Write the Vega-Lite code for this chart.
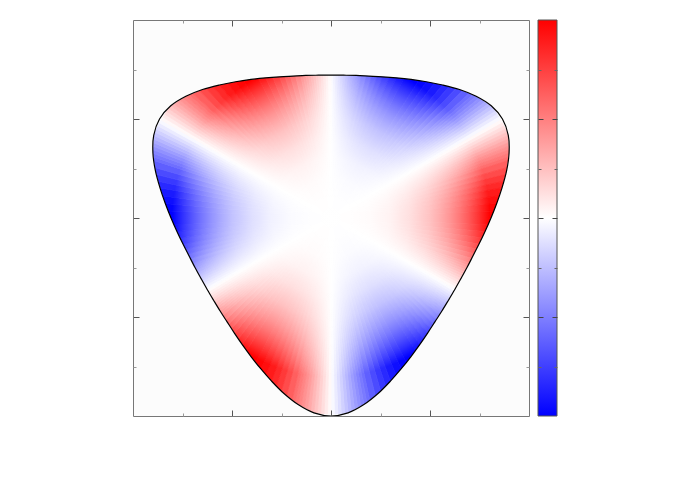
{
"$schema":"https://vega.github.io/schema/vega-lite/v6.json",
"background":"white",
"padding":{"left":132,"top":19,"right":5,"bottom":5},
"spacing":7,
"config":{"view":{"stroke":null},"axis":{"labels":false,"title":null,"grid":false,"domain":false,"zindex":1}},
"datasets":{
"wedges":[
{"a":0,"b":1,"v":-0.026},{"a":1,"b":2,"v":-0.079},{"a":2,"b":3,"v":-0.131},{"a":3,"b":4,"v":-0.182},{"a":4,"b":5,"v":-0.233},{"a":5,"b":6,"v":-0.284},{"a":6,"b":7,"v":-0.334},{"a":7,"b":8,"v":-0.383},{"a":8,"b":9,"v":-0.431},{"a":9,"b":10,"v":-0.477},{"a":10,"b":11,"v":-0.523},{"a":11,"b":12,"v":-0.566},{"a":12,"b":14,"v":-0.629},{"a":14,"b":16,"v":-0.707},{"a":16,"b":18,"v":-0.777},{"a":18,"b":20,"v":-0.839},{"a":20,"b":22.5,"v":-0.897},{"a":22.5,"b":25,"v":-0.947},{"a":25,"b":27.5,"v":-0.981},{"a":27.5,"b":32.5,"v":-1},{"a":32.5,"b":35,"v":-0.981},{"a":35,"b":37.5,"v":-0.947},{"a":37.5,"b":40,"v":-0.897},{"a":40,"b":42,"v":-0.839},{"a":42,"b":44,"v":-0.777},{"a":44,"b":46,"v":-0.707},{"a":46,"b":48,"v":-0.629},{"a":48,"b":49,"v":-0.566},{"a":49,"b":50,"v":-0.523},{"a":50,"b":51,"v":-0.477},{"a":51,"b":52,"v":-0.431},{"a":52,"b":53,"v":-0.383},{"a":53,"b":54,"v":-0.334},{"a":54,"b":55,"v":-0.284},{"a":55,"b":56,"v":-0.233},{"a":56,"b":57,"v":-0.182},{"a":57,"b":58,"v":-0.131},{"a":58,"b":59,"v":-0.079},{"a":59,"b":60,"v":-0.026},
{"a":60,"b":61,"v":0.026},{"a":61,"b":62,"v":0.079},{"a":62,"b":63,"v":0.131},{"a":63,"b":64,"v":0.182},{"a":64,"b":65,"v":0.233},{"a":65,"b":66,"v":0.284},{"a":66,"b":67,"v":0.334},{"a":67,"b":68,"v":0.383},{"a":68,"b":69,"v":0.431},{"a":69,"b":70,"v":0.477},{"a":70,"b":71,"v":0.523},{"a":71,"b":72,"v":0.566},{"a":72,"b":74,"v":0.629},{"a":74,"b":76,"v":0.707},{"a":76,"b":78,"v":0.777},{"a":78,"b":80,"v":0.839},{"a":80,"b":82.5,"v":0.897},{"a":82.5,"b":85,"v":0.947},{"a":85,"b":87.5,"v":0.981},{"a":87.5,"b":92.5,"v":1},{"a":92.5,"b":95,"v":0.981},{"a":95,"b":97.5,"v":0.947},{"a":97.5,"b":100,"v":0.897},{"a":100,"b":102,"v":0.839},{"a":102,"b":104,"v":0.777},{"a":104,"b":106,"v":0.707},{"a":106,"b":108,"v":0.629},{"a":108,"b":109,"v":0.566},{"a":109,"b":110,"v":0.523},{"a":110,"b":111,"v":0.477},{"a":111,"b":112,"v":0.431},{"a":112,"b":113,"v":0.383},{"a":113,"b":114,"v":0.334},{"a":114,"b":115,"v":0.284},{"a":115,"b":116,"v":0.233},{"a":116,"b":117,"v":0.182},{"a":117,"b":118,"v":0.131},{"a":118,"b":119,"v":0.079},{"a":119,"b":120,"v":0.026},
{"a":120,"b":121,"v":-0.026},{"a":121,"b":122,"v":-0.079},{"a":122,"b":123,"v":-0.131},{"a":123,"b":124,"v":-0.182},{"a":124,"b":125,"v":-0.233},{"a":125,"b":126,"v":-0.284},{"a":126,"b":127,"v":-0.334},{"a":127,"b":128,"v":-0.383},{"a":128,"b":129,"v":-0.431},{"a":129,"b":130,"v":-0.477},{"a":130,"b":131,"v":-0.523},{"a":131,"b":132,"v":-0.566},{"a":132,"b":134,"v":-0.629},{"a":134,"b":136,"v":-0.707},{"a":136,"b":138,"v":-0.777},{"a":138,"b":140,"v":-0.839},{"a":140,"b":142.5,"v":-0.897},{"a":142.5,"b":145,"v":-0.947},{"a":145,"b":147.5,"v":-0.981},{"a":147.5,"b":152.5,"v":-1},{"a":152.5,"b":155,"v":-0.981},{"a":155,"b":157.5,"v":-0.947},{"a":157.5,"b":160,"v":-0.897},{"a":160,"b":162,"v":-0.839},{"a":162,"b":164,"v":-0.777},{"a":164,"b":166,"v":-0.707},{"a":166,"b":168,"v":-0.629},{"a":168,"b":169,"v":-0.566},{"a":169,"b":170,"v":-0.523},{"a":170,"b":171,"v":-0.477},{"a":171,"b":172,"v":-0.431},{"a":172,"b":173,"v":-0.383},{"a":173,"b":174,"v":-0.334},{"a":174,"b":175,"v":-0.284},{"a":175,"b":176,"v":-0.233},{"a":176,"b":177,"v":-0.182},{"a":177,"b":178,"v":-0.131},{"a":178,"b":179,"v":-0.079},{"a":179,"b":180,"v":-0.026},
{"a":180,"b":181,"v":0.026},{"a":181,"b":182,"v":0.079},{"a":182,"b":183,"v":0.131},{"a":183,"b":184,"v":0.182},{"a":184,"b":185,"v":0.233},{"a":185,"b":186,"v":0.284},{"a":186,"b":187,"v":0.334},{"a":187,"b":188,"v":0.383},{"a":188,"b":189,"v":0.431},{"a":189,"b":190,"v":0.477},{"a":190,"b":191,"v":0.523},{"a":191,"b":192,"v":0.566},{"a":192,"b":194,"v":0.629},{"a":194,"b":196,"v":0.707},{"a":196,"b":198,"v":0.777},{"a":198,"b":200,"v":0.839},{"a":200,"b":202.5,"v":0.897},{"a":202.5,"b":205,"v":0.947},{"a":205,"b":207.5,"v":0.981},{"a":207.5,"b":212.5,"v":1},{"a":212.5,"b":215,"v":0.981},{"a":215,"b":217.5,"v":0.947},{"a":217.5,"b":220,"v":0.897},{"a":220,"b":222,"v":0.839},{"a":222,"b":224,"v":0.777},{"a":224,"b":226,"v":0.707},{"a":226,"b":228,"v":0.629},{"a":228,"b":229,"v":0.566},{"a":229,"b":230,"v":0.523},{"a":230,"b":231,"v":0.477},{"a":231,"b":232,"v":0.431},{"a":232,"b":233,"v":0.383},{"a":233,"b":234,"v":0.334},{"a":234,"b":235,"v":0.284},{"a":235,"b":236,"v":0.233},{"a":236,"b":237,"v":0.182},{"a":237,"b":238,"v":0.131},{"a":238,"b":239,"v":0.079},{"a":239,"b":240,"v":0.026},
{"a":240,"b":241,"v":-0.026},{"a":241,"b":242,"v":-0.079},{"a":242,"b":243,"v":-0.131},{"a":243,"b":244,"v":-0.182},{"a":244,"b":245,"v":-0.233},{"a":245,"b":246,"v":-0.284},{"a":246,"b":247,"v":-0.334},{"a":247,"b":248,"v":-0.383},{"a":248,"b":249,"v":-0.431},{"a":249,"b":250,"v":-0.477},{"a":250,"b":251,"v":-0.523},{"a":251,"b":252,"v":-0.566},{"a":252,"b":254,"v":-0.629},{"a":254,"b":256,"v":-0.707},{"a":256,"b":258,"v":-0.777},{"a":258,"b":260,"v":-0.839},{"a":260,"b":262.5,"v":-0.897},{"a":262.5,"b":265,"v":-0.947},{"a":265,"b":267.5,"v":-0.981},{"a":267.5,"b":272.5,"v":-1},{"a":272.5,"b":275,"v":-0.981},{"a":275,"b":277.5,"v":-0.947},{"a":277.5,"b":280,"v":-0.897},{"a":280,"b":282,"v":-0.839},{"a":282,"b":284,"v":-0.777},{"a":284,"b":286,"v":-0.707},{"a":286,"b":288,"v":-0.629},{"a":288,"b":289,"v":-0.566},{"a":289,"b":290,"v":-0.523},{"a":290,"b":291,"v":-0.477},{"a":291,"b":292,"v":-0.431},{"a":292,"b":293,"v":-0.383},{"a":293,"b":294,"v":-0.334},{"a":294,"b":295,"v":-0.284},{"a":295,"b":296,"v":-0.233},{"a":296,"b":297,"v":-0.182},{"a":297,"b":298,"v":-0.131},{"a":298,"b":299,"v":-0.079},{"a":299,"b":300,"v":-0.026},
{"a":300,"b":301,"v":0.026},{"a":301,"b":302,"v":0.079},{"a":302,"b":303,"v":0.131},{"a":303,"b":304,"v":0.182},{"a":304,"b":305,"v":0.233},{"a":305,"b":306,"v":0.284},{"a":306,"b":307,"v":0.334},{"a":307,"b":308,"v":0.383},{"a":308,"b":309,"v":0.431},{"a":309,"b":310,"v":0.477},{"a":310,"b":311,"v":0.523},{"a":311,"b":312,"v":0.566},{"a":312,"b":314,"v":0.629},{"a":314,"b":316,"v":0.707},{"a":316,"b":318,"v":0.777},{"a":318,"b":320,"v":0.839},{"a":320,"b":322.5,"v":0.897},{"a":322.5,"b":325,"v":0.947},{"a":325,"b":327.5,"v":0.981},{"a":327.5,"b":332.5,"v":1},{"a":332.5,"b":335,"v":0.981},{"a":335,"b":337.5,"v":0.947},{"a":337.5,"b":340,"v":0.897},{"a":340,"b":342,"v":0.839},{"a":342,"b":344,"v":0.777},{"a":344,"b":346,"v":0.707},{"a":346,"b":348,"v":0.629},{"a":348,"b":349,"v":0.566},{"a":349,"b":350,"v":0.523},{"a":350,"b":351,"v":0.477},{"a":351,"b":352,"v":0.431},{"a":352,"b":353,"v":0.383},{"a":353,"b":354,"v":0.334},{"a":354,"b":355,"v":0.284},{"a":355,"b":356,"v":0.233},{"a":356,"b":357,"v":0.182},{"a":357,"b":358,"v":0.131},{"a":358,"b":359,"v":0.079},{"a":359,"b":360,"v":0.026}
],
"bd":[
{"i":-5,"x":0,"y":-1,"c":1},{"i":-4,"x":1,"y":-1,"c":1},{"i":-3,"x":1,"y":1,"c":1},{"i":-2,"x":-1,"y":1,"c":1},{"i":-1,"x":-1,"y":-1,"c":1},
{"i":0,"x":0,"y":-1},{"i":1,"x":-0.0861,"y":-0.9842},{"i":2,"x":-0.1662,"y":-0.9425},{"i":3,"x":-0.2376,"y":-0.8867},{"i":4,"x":-0.3,"y":-0.8241},{"i":5,"x":-0.355,"y":-0.7613},{"i":6,"x":-0.404,"y":-0.6998},{"i":7,"x":-0.448,"y":-0.6398},{"i":8,"x":-0.4879,"y":-0.5814},{"i":9,"x":-0.5247,"y":-0.5247},{"i":10,"x":-0.56,"y":-0.4699},{"i":11,"x":-0.5931,"y":-0.4153},{"i":12,"x":-0.6253,"y":-0.361},{"i":13,"x":-0.6562,"y":-0.306},{"i":14,"x":-0.6869,"y":-0.25},{"i":15,"x":-0.7167,"y":-0.192},{"i":16,"x":-0.7475,"y":-0.1318},{"i":17,"x":-0.778,"y":-0.0681},{"i":18,"x":-0.808,"y":0},{"i":19,"x":-0.8368,"y":0.0732},{"i":20,"x":-0.8637,"y":0.1523},{"i":21,"x":-0.8867,"y":0.2376},{"i":22,"x":-0.8993,"y":0.3273},{"i":23,"x":-0.8954,"y":0.4175},{"i":24,"x":-0.866,"y":0.5},{"i":25,"x":-0.8093,"y":0.5667},{"i":26,"x":-0.7331,"y":0.6151},{"i":27,"x":-0.6491,"y":0.6491},{"i":28,"x":-0.5637,"y":0.6718},{"i":29,"x":-0.4818,"y":0.6881},{"i":30,"x":-0.404,"y":0.6998},{"i":31,"x":-0.3301,"y":0.7078},{"i":32,"x":-0.2596,"y":0.7132},{"i":33,"x":-0.192,"y":0.7167},{"i":34,"x":-0.1269,"y":0.7199},{"i":35,"x":-0.0631,"y":0.7212},{"i":36,"x":0,"y":0.722},
{"i":37,"x":0.0631,"y":0.7212},{"i":38,"x":0.1269,"y":0.7199},{"i":39,"x":0.192,"y":0.7167},{"i":40,"x":0.2596,"y":0.7132},{"i":41,"x":0.3301,"y":0.7078},{"i":42,"x":0.404,"y":0.6998},{"i":43,"x":0.4818,"y":0.6881},{"i":44,"x":0.5637,"y":0.6718},{"i":45,"x":0.6491,"y":0.6491},{"i":46,"x":0.7331,"y":0.6151},{"i":47,"x":0.8093,"y":0.5667},{"i":48,"x":0.866,"y":0.5},{"i":49,"x":0.8954,"y":0.4175},{"i":50,"x":0.8993,"y":0.3273},{"i":51,"x":0.8867,"y":0.2376},{"i":52,"x":0.8637,"y":0.1523},{"i":53,"x":0.8368,"y":0.0732},{"i":54,"x":0.808,"y":0},{"i":55,"x":0.778,"y":-0.0681},{"i":56,"x":0.7475,"y":-0.1318},{"i":57,"x":0.7167,"y":-0.192},{"i":58,"x":0.6869,"y":-0.25},{"i":59,"x":0.6562,"y":-0.306},{"i":60,"x":0.6253,"y":-0.361},{"i":61,"x":0.5931,"y":-0.4153},{"i":62,"x":0.56,"y":-0.4699},{"i":63,"x":0.5247,"y":-0.5247},{"i":64,"x":0.4879,"y":-0.5814},{"i":65,"x":0.448,"y":-0.6398},{"i":66,"x":0.404,"y":-0.6998},{"i":67,"x":0.355,"y":-0.7613},{"i":68,"x":0.3,"y":-0.8241},{"i":69,"x":0.2376,"y":-0.8867},{"i":70,"x":0.1662,"y":-0.9425},{"i":71,"x":0.0861,"y":-0.9842},{"i":72,"x":0,"y":-1}
]
},
"hconcat":[
{
"width":396,"height":396,
"layer":[
{
"data":{"name":"wedges"},
"mark":{"type":"arc","strokeWidth":0.8},
"encoding":{
"x":{"datum":0,"type":"quantitative","scale":{"domain":[-1,1],"nice":false,"zero":false},"axis":{"orient":"bottom","values":[-0.5,0,0.5],"tickSize":-6,"tickColor":"#555","domain":true,"domainColor":"#777","zindex":2}},
"y":{"datum":0,"type":"quantitative","scale":{"domain":[-1,1],"nice":false,"zero":false},"axis":{"orient":"left","values":[-0.5,0,0.5],"tickSize":-6,"tickColor":"#555","domain":true,"domainColor":"#777","zindex":2}},
"theta":{"field":"a","type":"quantitative","scale":{"domain":[0,360],"range":[0,6.283185307]},"stack":null},
"theta2":{"field":"b"},
"radius":{"datum":0.99,"type":"quantitative","scale":{"type":"linear","domain":[0,1],"range":[0,198],"zero":true}},
"fill":{"field":"v","type":"quantitative","scale":{"domain":[-1,0,1],"range":["#0000ff","#ffffff","#ff0000"],"interpolate":"rgb"},"legend":null},
"stroke":{"field":"v","type":"quantitative","scale":{"domain":[-1,0,1],"range":["#0000ff","#ffffff","#ff0000"],"interpolate":"rgb"},"legend":null}
}
},
{
"data":{"values":[{}]},
"mark":{"type":"rect","fill":{"gradient":"radial","x1":0.5,"y1":0.5,"r1":0,"x2":0.5,"y2":0.5,"r2":0.5,"stops":[
{"offset":0,"color":"rgba(255,255,255,1)"},{"offset":0.1,"color":"rgba(255,255,255,0.998)"},{"offset":0.2,"color":"rgba(255,255,255,0.985)"},{"offset":0.3,"color":"rgba(255,255,255,0.948)"},{"offset":0.4,"color":"rgba(255,255,255,0.876)"},{"offset":0.5,"color":"rgba(255,255,255,0.759)"},{"offset":0.55,"color":"rgba(255,255,255,0.679)"},{"offset":0.6,"color":"rgba(255,255,255,0.583)"},{"offset":0.65,"color":"rgba(255,255,255,0.47)"},{"offset":0.7,"color":"rgba(255,255,255,0.338)"},{"offset":0.75,"color":"rgba(255,255,255,0.185)"},{"offset":0.803,"color":"rgba(255,255,255,0)"},{"offset":1,"color":"rgba(255,255,255,0)"}]}},
"encoding":{
"x":{"datum":-1,"type":"quantitative","scale":{"domain":[-1,1],"nice":false,"zero":false},"axis":{"orient":"bottom","values":[-0.75,-0.25,0.25,0.75],"tickSize":-3,"tickColor":"#999","zindex":2}},
"x2":{"datum":1},
"y":{"datum":-1,"type":"quantitative","scale":{"domain":[-1,1],"nice":false,"zero":false},"axis":{"orient":"left","values":[-0.75,-0.25,0.25,0.75],"tickSize":-3,"tickColor":"#999","zindex":2}},
"y2":{"datum":1}
}
},
{
"data":{"name":"bd"},
"mark":{"type":"line","fill":"#fcfcfc","stroke":"transparent","strokeWidth":0,"interpolate":"linear"},
"encoding":{
"x":{"field":"x","type":"quantitative","scale":{"domain":[-1,1],"nice":false,"zero":false},"axis":{"orient":"top","values":[-0.5,0,0.5],"tickSize":-6,"tickColor":"#555","domain":true,"domainColor":"#777","zindex":2}},
"y":{"field":"y","type":"quantitative","scale":{"domain":[-1,1],"nice":false,"zero":false},"axis":{"orient":"right","values":[-0.5,0,0.5],"tickSize":-6,"tickColor":"#555","domain":true,"domainColor":"#777","zindex":2}},
"order":{"field":"i","type":"quantitative"}
}
},
{
"data":{"name":"bd"},
"transform":[{"filter":"datum.i >= 0 && datum.i < 72"}],
"mark":{"type":"line","stroke":"#000000","strokeWidth":1.2,"interpolate":"cardinal-closed"},
"encoding":{
"x":{"field":"x","type":"quantitative","scale":{"domain":[-1,1],"nice":false,"zero":false},"axis":{"orient":"top","values":[-0.75,-0.25,0.25,0.75],"tickSize":-3,"tickColor":"#999","zindex":2}},
"y":{"field":"y","type":"quantitative","scale":{"domain":[-1,1],"nice":false,"zero":false},"axis":{"orient":"right","values":[-0.75,-0.25,0.25,0.75],"tickSize":-3,"tickColor":"#999","zindex":2}},
"order":{"field":"i","type":"quantitative"}
}
}
],
"resolve":{"axis":{"x":"independent","y":"independent"}}
},
{
"width":19,"height":396,
"data":{"values":[{}]},
"layer":[
{
"mark":{"type":"rect","stroke":"#555","strokeWidth":1,"fill":{"gradient":"linear","x1":0,"y1":1,"x2":0,"y2":0,"stops":[{"offset":0,"color":"#0000ff"},{"offset":0.5,"color":"#ffffff"},{"offset":1,"color":"#ff0000"}]}},
"encoding":{
"x":{"datum":0,"type":"quantitative","scale":{"domain":[0,1],"nice":false},"axis":null},"x2":{"datum":1},
"y":{"datum":-1,"type":"quantitative","scale":{"domain":[-1,1],"nice":false,"zero":false},"axis":{"orient":"left","values":[-0.5,0,0.5],"tickSize":-5,"tickColor":"#444","zindex":2}},"y2":{"datum":1}
}
},
{
"mark":{"type":"rect","opacity":0},
"encoding":{
"x":{"datum":0,"type":"quantitative","scale":{"domain":[0,1],"nice":false},"axis":null},"x2":{"datum":1},
"y":{"datum":-1,"type":"quantitative","scale":{"domain":[-1,1],"nice":false,"zero":false},"axis":{"orient":"left","values":[-0.75,-0.25,0.25,0.75],"tickSize":-3,"tickColor":"#666","zindex":2}},"y2":{"datum":1}
}
},
{
"mark":{"type":"rect","opacity":0},
"encoding":{
"x":{"datum":0,"type":"quantitative","scale":{"domain":[0,1],"nice":false},"axis":null},"x2":{"datum":1},
"y":{"datum":-1,"type":"quantitative","scale":{"domain":[-1,1],"nice":false,"zero":false},"axis":{"orient":"right","values":[-0.5,0,0.5],"tickSize":-5,"tickColor":"#444","zindex":2}},"y2":{"datum":1}
}
},
{
"mark":{"type":"rect","opacity":0},
"encoding":{
"x":{"datum":0,"type":"quantitative","scale":{"domain":[0,1],"nice":false},"axis":null},"x2":{"datum":1},
"y":{"datum":-1,"type":"quantitative","scale":{"domain":[-1,1],"nice":false,"zero":false},"axis":{"orient":"right","values":[-0.75,-0.25,0.25,0.75],"tickSize":-3,"tickColor":"#666","zindex":2}},"y2":{"datum":1}
}
}
],
"resolve":{"axis":{"y":"independent"}}
}
]
}
